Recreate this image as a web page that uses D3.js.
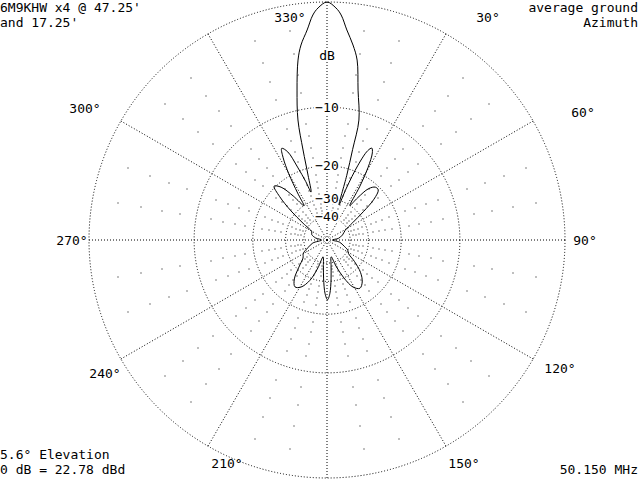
<!DOCTYPE html>
<html>
<head>
<meta charset="utf-8">
<script src="https://cdn.jsdelivr.net/npm/d3@7"></script>
<style>
  html, body { margin: 0; padding: 0; background: #fff; }
  svg { display: block; }
  text { font-family: "DejaVu Sans Mono", "Liberation Mono", monospace; font-size: 13px; fill: #000; }
</style>
</head>
<body>
<div id="chart"></div>
<script>
'use strict';

// azimuth pattern, compass bearing (deg) and gain (dB rel. max)
var azimuth = [0, 2.2, 3.6, 5.4, 7.6, 9.5, 11.7, 14.9, 15.8, 17, 18.9,
  20.5, 22.5, 24.5, 26, 27.5, 29.5, 31.5, 33.5, 36, 39, 42.5, 45.7, 49, 52, 56,
  62, 72, 82, 90, 100, 110, 116, 122, 128, 134, 140, 145.7, 151, 156, 161, 166,
  171, 174, 177, 179.5, 182, 185, 188, 193, 198, 203, 209, 214.4, 220, 226, 233,
  240.7, 248, 258, 270, 280, 290, 298.5, 305, 309, 312.5, 315.5, 319, 322.5, 326,
  328, 330, 332, 333.7, 336, 338, 340, 341.6, 343.7, 345.1, 346.4, 348.7, 350.85,
  352.4, 354.6, 356.4, 357.8];
var gain = [0, -0.42, -0.93, -2.07, -3.27, -4.56, -7.57, -11.17, -15.9, -21.6, -31.9,
  -25, -18.5, -15.2, -14.5, -15.2, -18, -23, -30, -26, -22, -20.6, -20.6, -23, -28, -35,
  -42, -46, -52, -65, -50, -44, -40, -38.5, -33, -28, -25.2, -24.1, -25.5, -30, -37, -45,
  -38, -31, -25.5, -23.7, -25.5, -31, -38, -45, -36, -29, -25.5, -24.6, -26.5, -31, -35.5,
  -37.3, -42, -48, -65, -52, -46, -45, -36, -28, -22.5, -19.7, -21, -25, -30,
  -25, -19.5, -16, -14.5, -15.5, -19, -23, -26.6, -21.6, -16.1, -11.26, -7.59, -4.58,
  -3.27, -2.07, -0.93, -0.42];

var majorRings = [0, -10, -20, -30, -40];
var ringLabels = ["dB", "\u221210", "\u221220", "\u221230", "\u221240"];
var minorRings = d3.range(-2, -40, -2).filter(function(d){ return d % 10 !== 0; });
var spokes = d3.range(0, 360, 30);
var degLabels = [30, 60, 90, 120, 150, 210, 240, 270, 300, 330];

var titleLeft = ["6M9KHW x4 @ 47.25'", "and 17.25'"];
var titleRight = ["average ground", "Azimuth"];
var footLeft = ["5.6\u00b0 Elevation", "0 dB = 22.78 dBd"];
var footRight = ["50.150 MHz"];

var width = 640, height = 480;
var cx = 327, cy = 240, R = 238;

// ARRL log scale: radius goes as relative power ^ 0.2531 (0.89 per 2 dB)
var rScale = d3.scalePow().exponent(0.2531).domain([0, 1]).range([0, R]);
function rad(db){ return rScale(Math.pow(10, db / 10)); }
function toRad(deg){ return deg * Math.PI / 180; }

// where the bearing labels sit, relative to the plot centre
var labelAt = {30:[161,-223], 60:[256,-128], 90:[258,0], 120:[233,128], 150:[137,223],
  210:[-100,223], 240:[-222,133], 270:[-255,0], 300:[-242,-132], 330:[-37,-223]};

var svg = d3.select("#chart").append("svg")
  .attr("width", width).attr("height", height);

svg.append("rect").attr("width", width).attr("height", height).attr("fill", "#fff");

var plot = svg.append("g").attr("transform", "translate(" + cx + "," + cy + ")");
var grid = plot.append("g").attr("class", "grid");

grid.selectAll("circle.major").data(majorRings).enter().append("circle")
  .attr("class", "major")
  .attr("r", function(d){ return rad(d); })
  .attr("fill", "none").attr("stroke", "#000").attr("stroke-width", 1)
  .attr("stroke-dasharray", "1,2");

grid.selectAll("line.spoke").data(spokes).enter().append("line")
  .attr("class", "spoke")
  .attr("x1", 0).attr("y1", 0)
  .attr("x2", function(d){ return R * Math.sin(toRad(d)); })
  .attr("y2", function(d){ return -R * Math.cos(toRad(d)); })
  .attr("stroke", "#000").attr("stroke-width", 1)
  .attr("stroke-dasharray", "1,2");

// minor rings: single dots every 10 deg
var minorDots = [];
minorRings.forEach(function(db){
  d3.range(0, 360, 10).forEach(function(a){
    if (a % 30 !== 0) minorDots.push({db: db, a: a});
  });
});
grid.selectAll("rect.dot").data(minorDots).enter().append("rect")
  .attr("class", "dot")
  .attr("x", function(d){ return Math.round(rad(d.db) * Math.sin(toRad(d.a))) - 0.5; })
  .attr("y", function(d){ return Math.round(-rad(d.db) * Math.cos(toRad(d.a))) - 0.5; })
  .attr("width", 1).attr("height", 1).attr("fill", "#000");

// dB labels on the 0 deg spoke
plot.selectAll("text.ring").data(majorRings).enter().append("text")
  .attr("class", "ring")
  .attr("x", 0)
  .attr("y", function(d, i){ return i === 0 ? -185 : -rad(d); })
  .attr("dy", "0.35em")
  .attr("text-anchor", "middle")
  .attr("stroke", "#fff").attr("stroke-width", 4).attr("paint-order", "stroke")
  .text(function(d, i){ return ringLabels[i]; });

plot.selectAll("text.deg").data(degLabels).enter().append("text")
  .attr("class", "deg")
  .attr("x", function(d){ return labelAt[d][0]; })
  .attr("y", function(d){ return labelAt[d][1]; })
  .attr("dy", "0.35em")
  .attr("text-anchor", "middle")
  .text(function(d){ return d + "\u00b0"; });

var pattern = azimuth.map(function(a, i){ return [a, gain[i]]; });
var line = d3.lineRadial()
  .angle(function(d){ return toRad(d[0]); })
  .radius(function(d){ return rad(d[1]); })
  .curve(d3.curveCatmullRomClosed.alpha(0.5));

plot.append("path")
  .datum(pattern)
  .attr("d", line)
  .attr("fill", "none").attr("stroke", "#000").attr("stroke-width", 1);

// corner texts
function corner(lines, x, y0, anchor){
  svg.selectAll(null).data(lines).enter().append("text")
    .attr("x", x)
    .attr("y", function(d, i){ return y0 + i * 15; })
    .attr("text-anchor", anchor)
    .text(function(d){ return d; });
}
corner(titleLeft, 0, 12, "start");
corner(titleRight, 638, 12, "end");
corner(footLeft, 0, 459, "start");
corner(footRight, 638, 474, "end");
</script>
</body>
</html>
